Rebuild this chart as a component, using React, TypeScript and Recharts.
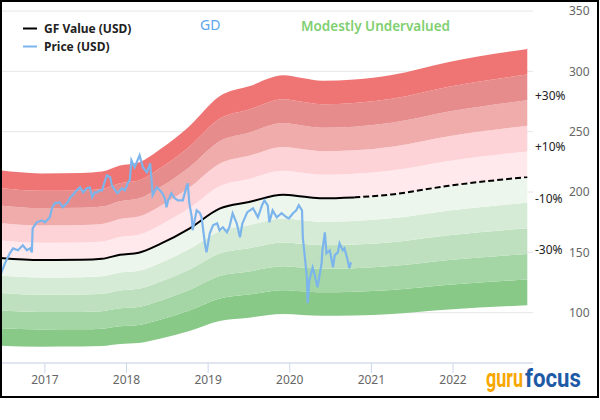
import {
  ComposedChart,
  Area,
  Line,
  XAxis,
  YAxis,
  CartesianGrid,
  ReferenceDot,
} from "recharts";

// GF Value (USD)
const gfYears = [
  2016.45, 2016.95, 2017.45, 2017.7, 2017.92, 2018.15, 2018.42, 2018.77, 2019.14,
  2019.5, 2019.92, 2020.15, 2020.4, 2020.79, 2021.25, 2021.95, 2022.91,
];
const gfValues = [
  145.3, 143.6, 143.8, 144.6, 148.0, 149.7, 157.2, 169.7, 186.2, 191.7, 197.8,
  196.3, 194.8, 195.5, 198.0, 205.2, 212.4,
];
const gfSplitYear = 2020.79;

// band edges as multiples of GF Value, bottom to top
const bandSteps = [0.5, 0.6, 0.7, 0.8, 0.9, 1.0, 1.1, 1.2, 1.3, 1.4, 1.5];
const bandColors = [
  "#88c988",
  "#a4d5a4",
  "#bee0be",
  "#d6ebd6",
  "#edf6ed",
  "#ffe9ec",
  "#fdd3d7",
  "#f0abab",
  "#e68c8c",
  "#ef7575",
];
const bandLabels = ["+30%", "+10%", "-10%", "-30%"];
const bandLabelSteps = [1.3, 1.1, 0.9, 0.7];

// Price (USD)
const priceYears = [
  2016.45, 2016.47, 2016.51, 2016.57, 2016.61, 2016.67, 2016.73, 2016.78, 2016.82,
  2016.84, 2016.85, 2016.9, 2016.96, 2017.0, 2017.06, 2017.09, 2017.12, 2017.18,
  2017.22, 2017.28, 2017.31, 2017.34, 2017.39, 2017.43, 2017.47, 2017.51, 2017.55,
  2017.58, 2017.61, 2017.64, 2017.67, 2017.7, 2017.73, 2017.76, 2017.8, 2017.82,
  2017.86, 2017.89, 2017.94, 2017.98, 2018.02, 2018.04, 2018.06, 2018.1, 2018.16,
  2018.2, 2018.25, 2018.29, 2018.31, 2018.32, 2018.37, 2018.41, 2018.44, 2018.47,
  2018.49, 2018.51, 2018.55, 2018.59, 2018.63, 2018.69, 2018.74, 2018.75, 2018.77,
  2018.8, 2018.81, 2018.86, 2018.9, 2018.92, 2018.96, 2018.98, 2019.02, 2019.06,
  2019.11, 2019.14, 2019.18, 2019.23, 2019.26, 2019.3, 2019.35, 2019.39, 2019.42,
  2019.48, 2019.55, 2019.61, 2019.66, 2019.69, 2019.73, 2019.75, 2019.79, 2019.84,
  2019.9, 2019.96, 2019.99, 2020.04, 2020.08, 2020.11, 2020.15, 2020.16, 2020.18,
  2020.21, 2020.22, 2020.24, 2020.28, 2020.3, 2020.34, 2020.39, 2020.4, 2020.43,
  2020.45, 2020.49, 2020.53, 2020.55, 2020.59, 2020.61, 2020.65, 2020.67, 2020.71,
  2020.73, 2020.75,
];
const priceValues = [
  137.8, 133.7, 140.9, 149.2, 153.3, 151.7, 155.8, 151.7, 153.3, 150.0, 169.9,
  174.9, 176.5, 174.9, 179.0, 187.3, 190.6, 191.4, 187.3, 191.4, 195.6, 197.3,
  201.4, 203.9, 199.7, 203.0, 203.9, 195.6, 199.7, 199.7, 201.4, 201.4, 208.0,
  213.8, 212.2, 205.5, 201.4, 198.9, 203.0, 201.4, 208.0, 209.7, 226.3, 220.5,
  230.4, 220.5, 216.3, 223.8, 207.2, 197.3, 203.9, 201.4, 198.9, 194.8, 187.3,
  193.1, 198.9, 194.8, 193.1, 193.1, 205.5, 207.2, 190.6, 179.0, 168.3, 184.8,
  182.4, 179.0, 157.5, 150.0, 165.8, 172.4, 174.1, 168.3, 170.8, 166.6, 170.8,
  182.4, 174.1, 162.5, 174.1, 183.3, 186.5, 179.0, 189.0, 193.1, 189.0, 174.9,
  184.8, 179.0, 182.4, 179.0, 178.2, 182.4, 184.8, 189.0, 184.8, 162.5, 149.2,
  129.3, 107.8, 126.8, 137.6, 132.6, 121.0, 140.9, 151.7, 166.6, 149.2, 151.7,
  137.6, 147.5, 150.0, 157.5, 151.7, 153.3, 143.4, 136.8, 141.8,
];

const xTicks = [2017, 2018, 2019, 2020, 2021, 2022];
const yTicks = [100, 150, 200, 250, 300, 350];
const xDomain: [number, number] = [2016.45, 2022.98];
const yDomain: [number, number] = [58.3, 350];

const FONT = "'Noto Sans', 'DejaVu Sans', sans-serif";
const LOGO_FONT = "'Liberation Sans Narrow', 'Roboto', sans-serif";

const bandRows = gfYears.map((year, i) => {
  const row: Record<string, any> = { year, gf: gfValues[i] };
  for (let j = 0; j < bandSteps.length - 1; j++) {
    row[`b${j}`] = [gfValues[i] * bandSteps[j], gfValues[i] * bandSteps[j + 1]];
  }
  return row;
});
const gfPast = bandRows.filter((r) => r.year <= gfSplitYear);
const gfFuture = bandRows.filter((r) => r.year >= gfSplitYear);
const priceRows = priceYears.map((year, i) => ({ year, price: priceValues[i] }));
const gfLast = gfValues[gfValues.length - 1];

export default function App() {
  return (
    <div style={{ position: "absolute", left: 0, top: 0, width: 600, height: 420 }}>
      <ComposedChart
        width={600}
        height={398}
        data={bandRows}
        margin={{ top: 11, right: 0, bottom: 0, left: 0 }}
      >
        <CartesianGrid vertical={false} stroke="#e6e6e6" />
        <XAxis
          dataKey="year"
          type="number"
          domain={xDomain}
          allowDataOverflow
          ticks={xTicks}
          tickFormatter={(v) => String(v)}
          height={35}
          stroke="#ccd6eb"
          tickSize={10}
          tickMargin={2}
          tick={{ fill: "#666", fontSize: 12, fontFamily: FONT }}
        />
        <YAxis
          orientation="right"
          type="number"
          domain={yDomain}
          allowDataOverflow
          ticks={yTicks}
          width={67}
          axisLine={false}
          tickLine={false}
          tickSize={0}
          tickMargin={36}
          tick={{ fill: "#666", fontSize: 12, fontFamily: FONT }}
        />
        {bandColors.map((c, j) => (
          <Area
            key={j}
            dataKey={`b${j}`}
            type="monotone"
            stroke="none"
            fill={c}
            fillOpacity={1}
            isAnimationActive={false}
          />
        ))}
        <Line
          data={gfPast}
          dataKey="gf"
          type="monotone"
          stroke="#000"
          strokeWidth={2}
          dot={false}
          isAnimationActive={false}
        />
        <Line
          data={gfFuture}
          dataKey="gf"
          type="monotone"
          stroke="#000"
          strokeWidth={2}
          strokeDasharray="6 3"
          dot={false}
          isAnimationActive={false}
        />
        <Line
          data={priceRows}
          dataKey="price"
          type="linear"
          stroke="#7cb5ec"
          strokeWidth={2.2}
          dot={false}
          isAnimationActive={false}
        />
        {bandLabels.map((t, i) => (
          <ReferenceDot
            key={t}
            x={xDomain[1]}
            y={gfLast * bandLabelSteps[i]}
            r={0}
            fill="none"
            stroke="none"
            ifOverflow="visible"
            label={{
              content: (p: any) => (
                <text
                  x={p.viewBox.x + 2}
                  y={p.viewBox.y}
                  fontSize={12}
                  fontFamily={FONT}
                  fill="#222"
                >
                  {t}
                </text>
              ),
            }}
          />
        ))}
      </ComposedChart>
      <svg
        width={600}
        height={420}
        style={{ position: "absolute", left: 0, top: 0, pointerEvents: "none" }}
      >
        <line x1={23} x2={37} y1={28.5} y2={28.5} stroke="#000" strokeWidth={2} />
        <text x={44} y={33} fontSize={12} fontWeight="bold" fontFamily={FONT} fill="#222">
          GF Value (USD)
        </text>
        <line x1={23} x2={37} y1={46.5} y2={46.5} stroke="#7cb5ec" strokeWidth={2} />
        <text x={44} y={51} fontSize={12} fontWeight="bold" fontFamily={FONT} fill="#222">
          Price (USD)
        </text>
        <text x={200} y={29.5} fontSize={14} fontFamily={FONT} fill="#5aa6ee">
          GD
        </text>
        <text
          x={301}
          y={31}
          fontSize={15}
          fontWeight={600}
          fontFamily={FONT}
          fill="#80cf70"
          textLength={149}
          lengthAdjust="spacingAndGlyphs"
        >
          Modestly Undervalued
        </text>
        {/* logo: narrow bold face, stretched upward */}
        <g transform="translate(486 387) scale(1 1.3)">
          <text
            x={0}
            y={0}
            fontSize={20}
            fontWeight="bold"
            fontFamily={LOGO_FONT}
            fill="#f7a800"
            textLength={37}
            lengthAdjust="spacingAndGlyphs"
          >
            guru
          </text>
          <text
            x={39}
            y={0}
            fontSize={20}
            fontWeight="bold"
            fontFamily={LOGO_FONT}
            fill="#1f5aa6"
            textLength={56}
            lengthAdjust="spacingAndGlyphs"
          >
            focus
          </text>
        </g>
        <rect x={1} y={1} width={597} height={396} fill="none" stroke="#000" strokeWidth={2} />
      </svg>
    </div>
  );
}
